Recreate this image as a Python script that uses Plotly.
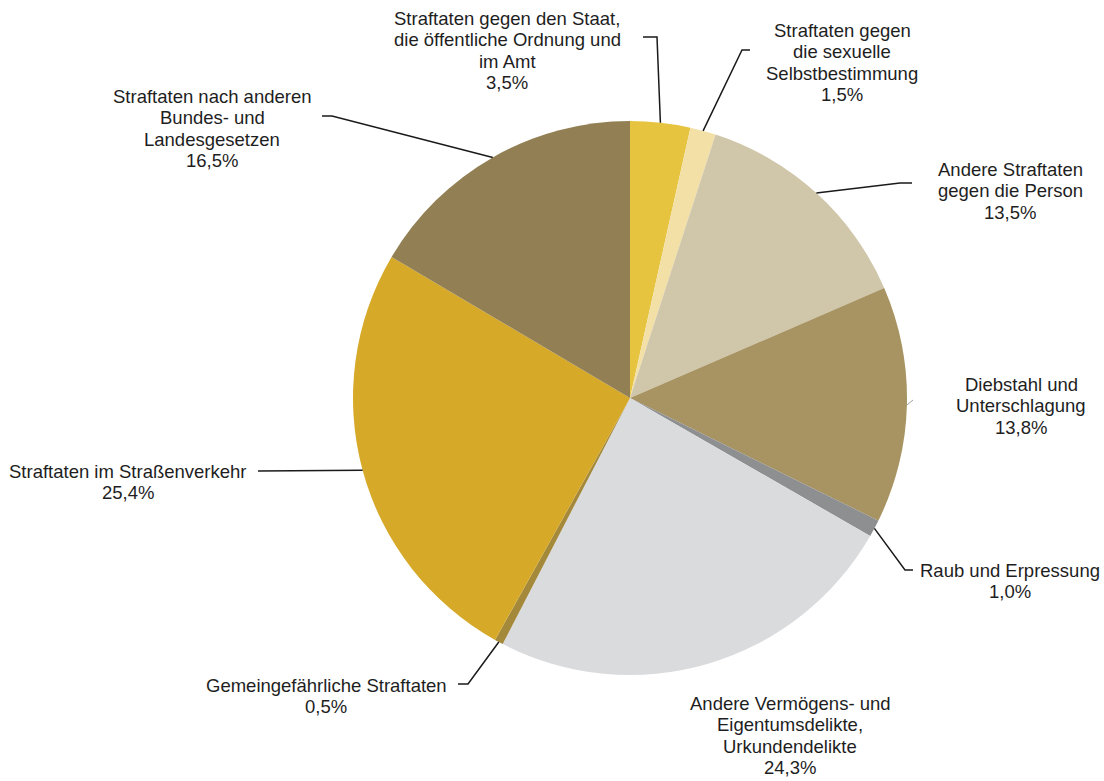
import math
import plotly.graph_objects as go

# ---- data ----
categories = [
    ["Straftaten gegen den Staat,", "die öffentliche Ordnung und", "im Amt"],
    ["Straftaten gegen", "die sexuelle", "Selbstbestimmung"],
    ["Andere Straftaten", "gegen die Person"],
    ["Diebstahl und", "Unterschlagung"],
    ["Raub und Erpressung"],
    ["Andere Vermögens- und", "Eigentumsdelikte,", "Urkundendelikte"],
    ["Gemeingefährliche Straftaten"],
    ["Straftaten im Straßenverkehr"],
    ["Straftaten nach anderen", "Bundes- und", "Landesgesetzen"],
]
values = [3.5, 1.5, 13.5, 13.8, 1.0, 24.3, 0.5, 25.4, 16.5]
value_labels = ["3,5%", "1,5%", "13,5%", "13,8%", "1,0%", "24,3%", "0,5%", "25,4%", "16,5%"]

# ---- styles ----
colors = ["#E6C43F", "#F2E0A6", "#D0C6AA", "#A89462", "#8E8F91",
          "#DADBDD", "#A5893A", "#D6A929", "#928054"]

W, H = 1104, 781
CX, CY, R = 630, 398, 277
LINE_H = 21.5
FONT = dict(family="Liberation Sans, Arial, sans-serif", size=18.5, color="#1e1e1e")

# label layout: text center x, y of first line, leader elbow/end points (pixels)
label_layout = [
    dict(tx=507, ty=18, elbow=(657, 37), end=(643, 37), lw=1.5, lc="#1a1a1a"),
    dict(tx=842, ty=30, elbow=(742, 50), end=(750, 50), lw=1.5, lc="#1a1a1a"),
    dict(tx=1010, ty=169, elbow=(900, 183), end=(912, 183), lw=1.5, lc="#1a1a1a"),
    dict(tx=1021, ty=384, elbow=None, end=(913, 400), lw=0.8, lc="#888888"),
    dict(tx=1010, ty=570, elbow=(905, 570), end=(913, 570), lw=1.5, lc="#1a1a1a"),
    dict(tx=790, ty=703, elbow=None, end=None, lw=0, lc="#1a1a1a"),
    dict(tx=326, ty=685, elbow=(468, 684), end=(458, 684), lw=1.5, lc="#1a1a1a"),
    dict(tx=128, ty=471, elbow=None, end=(258, 471), lw=1.5, lc="#1a1a1a"),
    dict(tx=212, ty=96, elbow=(332, 116), end=(322, 116), lw=1.5, lc="#1a1a1a"),
]

fig = go.Figure()
fig.add_trace(go.Pie(
    labels=[" ".join(c) for c in categories],
    values=values,
    sort=False,
    direction="clockwise",
    rotation=0,
    marker=dict(colors=colors, line=dict(width=0)),
    textinfo="none",
    hoverinfo="label+percent",
    showlegend=False,
    domain=dict(x=[(CX - R) / W, (CX + R) / W], y=[(H - CY - R) / H, (H - CY + R) / H]),
))

total = sum(values)
cum = 0.0
shapes = []
annotations = []
for i, v in enumerate(values):
    mid = (cum + v / 2) / total * 2 * math.pi
    cum += v
    ex = CX + R * math.sin(mid)
    ey = CY - R * math.cos(mid)
    L = label_layout[i]
    if L["end"] is not None:
        pts = [(ex, ey)]
        if L["elbow"] is not None:
            pts.append(L["elbow"])
        pts.append(L["end"])
        path = "M " + " L ".join(f"{x:.1f},{y:.1f}" for x, y in pts)
        shapes.append(dict(type="path", path=path, xref="x", yref="y",
                           line=dict(color=L["lc"], width=L["lw"])))
    lines = categories[i] + [value_labels[i]]
    for k, line in enumerate(lines):
        annotations.append(dict(
            x=L["tx"], y=L["ty"] + k * LINE_H, xref="x", yref="y", text=line,
            showarrow=False, xanchor="center", yanchor="middle", align="center",
            font=FONT,
        ))

fig.update_layout(
    width=W, height=H,
    margin=dict(l=0, r=0, t=0, b=0),
    paper_bgcolor="white", plot_bgcolor="white",
    xaxis=dict(range=[0, W], visible=False, fixedrange=True),
    yaxis=dict(range=[H, 0], visible=False, fixedrange=True),
    shapes=shapes,
    annotations=annotations,
)

fig.write_html("out.html", config={"displayModeBar": False},
               post_script="document.body.style.margin='0';document.body.style.overflow='hidden';")
